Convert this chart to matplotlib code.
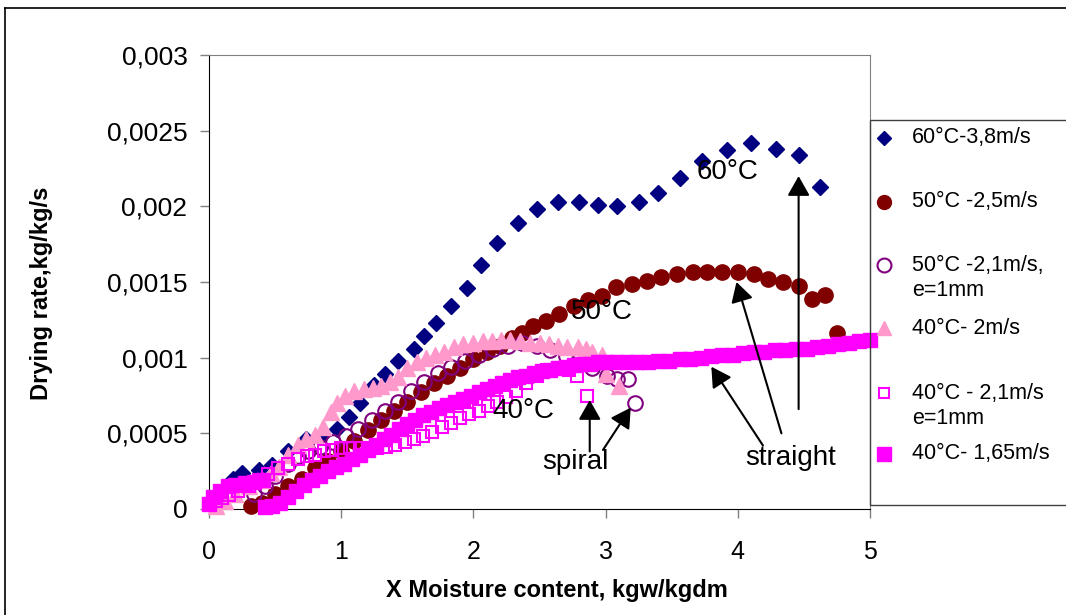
import matplotlib
matplotlib.use('Agg')
import matplotlib.pyplot as plt
from matplotlib.lines import Line2D
from matplotlib.patches import Rectangle

plt.rcParams['font.family'] = ['Liberation Sans', 'DejaVu Sans']

# 60°C - 3,8 m/s
x_60 = [0.03, 0.1, 0.18, 0.25, 0.38, 0.48, 0.6, 0.73, 0.85, 0.97, 1.06, 1.14,
        1.25, 1.33, 1.43, 1.55, 1.63, 1.72, 1.83, 1.95, 2.06, 2.18, 2.34, 2.48,
        2.64, 2.80, 2.94, 3.09, 3.25, 3.40, 3.56, 3.73, 3.92, 4.10, 4.29, 4.46, 4.62]
y_60 = [0.00003, 0.00012, 0.0002, 0.00024, 0.00026, 0.00029, 0.00038, 0.00046,
        0.00048, 0.00053, 0.00061, 0.0007, 0.00082, 0.00089, 0.00098, 0.00106,
        0.00114, 0.00123, 0.00134, 0.00146, 0.00161, 0.00176, 0.00189, 0.00198,
        0.00203, 0.00203, 0.00201, 0.002, 0.00203, 0.00209, 0.00219, 0.0023,
        0.00237, 0.00242, 0.00238, 0.00234, 0.00213]

# 50°C - 2,5 m/s
x_50a = [0.32, 0.4, 0.5, 0.6, 0.7, 0.8, 0.9, 1.0, 1.1, 1.2, 1.3, 1.4, 1.5, 1.6,
         1.7, 1.8, 1.9, 2.0, 2.1, 2.2, 2.29, 2.37, 2.45, 2.55, 2.65, 2.76, 2.87,
         2.97, 3.08, 3.20, 3.31, 3.42, 3.54, 3.66, 3.77, 3.88, 4.00, 4.12, 4.23,
         4.34, 4.46, 4.56, 4.66, 4.75]
y_50a = [0.00002, 0.00004, 0.0001, 0.00015, 0.0002, 0.00027, 0.00032, 0.00038,
         0.00045, 0.00052, 0.00059, 0.00065, 0.00071, 0.00077, 0.00083, 0.00088,
         0.00093, 0.00099, 0.00104, 0.00108, 0.00113, 0.00116, 0.00121, 0.00124,
         0.00129, 0.00134, 0.00138, 0.00141, 0.001465, 0.001487, 0.001507,
         0.001535, 0.001553, 0.001566, 0.001566, 0.001566, 0.001564, 0.001553,
         0.001518, 0.001502, 0.001476, 0.001388, 0.001414, 0.001161]

# 50°C - 2,1 m/s, e=1mm
x_50b = [0.34, 0.42, 0.5, 0.6, 0.67, 0.75, 0.84, 0.94, 1.04, 1.13, 1.23, 1.33,
         1.43, 1.53, 1.63, 1.73, 1.83, 1.94, 2.04, 2.15, 2.26, 2.37, 2.48, 2.58,
         2.7, 2.8, 2.9, 3.01, 3.09, 3.17, 3.22]
y_50b = [0.0001, 0.00015, 0.00022, 0.0003, 0.00035, 0.00038, 0.00041, 0.00044,
         0.00048, 0.00053, 0.00059, 0.00065, 0.00071, 0.00078, 0.00084, 0.0009,
         0.00094, 0.00098, 0.00102, 0.00106, 0.00108, 0.0011, 0.00108, 0.00105,
         0.00101, 0.00099, 0.00093, 0.00088, 0.00086, 0.00086, 0.0007]

# 40°C - 2 m/s
x_40a = [0.05, 0.12, 0.2, 0.3, 0.4, 0.47, 0.53, 0.6, 0.67, 0.73, 0.8, 0.86, 0.92,
         0.97, 1.03, 1.1, 1.17, 1.24, 1.3, 1.37, 1.43, 1.5, 1.57, 1.64, 1.71,
         1.78, 1.85, 1.92, 2.0, 2.07, 2.14, 2.21, 2.28, 2.35, 2.43, 2.5, 2.57,
         2.64, 2.71, 2.79, 2.85, 2.9, 2.97, 3.0, 3.1]
y_40a = [0.00002, 0.00005, 0.0001, 0.00015, 0.00019, 0.00024, 0.00028, 0.00036,
         0.00042, 0.00046, 0.00049, 0.00054, 0.00064, 0.0007, 0.00075, 0.00078,
         0.00079, 0.0008, 0.00081, 0.00084, 0.00087, 0.00093, 0.00097, 0.001,
         0.00102, 0.00104, 0.00107, 0.00109, 0.0011, 0.00111, 0.00111, 0.00112,
         0.00112, 0.00111, 0.0011, 0.0011, 0.00109, 0.00108, 0.00107, 0.00107,
         0.00106, 0.00104, 0.00102, 0.00089, 0.00081]

# 40°C - 2,1 m/s, e=1mm
x_40b = [0.0, 0.05, 0.1, 0.15, 0.22, 0.3, 0.38, 0.45, 0.52, 0.6, 0.67, 0.74, 0.8,
         0.87, 0.93, 1.0, 1.07, 1.14, 1.2, 1.27, 1.34, 1.41, 1.48, 1.55, 1.62,
         1.69, 1.76, 1.83, 1.9, 1.97, 2.04, 2.11, 2.18, 2.25, 2.32, 2.4, 2.48,
         2.56, 2.64, 2.72, 2.78, 2.86]
y_40b = [0.00003, 0.00005, 0.00007, 0.00009, 0.00012, 0.00015, 0.00019, 0.00023,
         0.00027, 0.0003, 0.00033, 0.00035, 0.00036, 0.00038, 0.00039, 0.0004,
         0.0004, 0.0004, 0.0004, 0.0004, 0.00041, 0.00042, 0.00044, 0.00046,
         0.00048, 0.00051, 0.00054, 0.00057, 0.0006, 0.00063, 0.00065, 0.00068,
         0.00071, 0.00074, 0.00078, 0.00083, 0.00088, 0.00092, 0.00093, 0.00092,
         0.00088, 0.00075]

# 40°C - 1,65 m/s
x_40c = [0.0, 0.03, 0.08, 0.14, 0.2, 0.27, 0.34, 0.41,
         0.42, 0.48, 0.54, 0.6, 0.66, 0.72, 0.78, 0.84, 0.9, 0.96, 1.02, 1.08,
         1.14, 1.2, 1.26, 1.32, 1.38, 1.44, 1.5, 1.56, 1.62, 1.68, 1.74, 1.8,
         1.86, 1.92, 1.98, 2.04, 2.1, 2.16, 2.22, 2.28, 2.34, 2.4, 2.46, 2.52,
         2.58, 2.64, 2.7, 2.76, 2.82, 2.88, 2.94, 3.0, 3.08, 3.16, 3.24, 3.32,
         3.4, 3.48, 3.56, 3.64, 3.72, 3.8, 3.88, 3.96, 4.04, 4.12, 4.2, 4.28,
         4.36, 4.44, 4.52, 4.6, 4.68, 4.76, 4.84, 4.92, 5.0]
y_40c = [0.00003, 0.00008, 0.00012, 0.00015, 0.00016, 0.00017, 0.00018, 0.00019,
         0.00001, 0.00002, 0.00004, 0.00008, 0.00012, 0.00016, 0.00019, 0.00022,
         0.00025, 0.00028, 0.0003, 0.00033, 0.00036, 0.00039, 0.00042, 0.00046,
         0.00049, 0.00053, 0.00056, 0.00059, 0.00062, 0.00064, 0.00067, 0.00069,
         0.00071, 0.00073, 0.00075, 0.00077, 0.00079, 0.00081, 0.00083, 0.00085,
         0.00087, 0.00088, 0.0009, 0.00091, 0.00092, 0.00093, 0.00094, 0.00095,
         0.00096, 0.00096, 0.00097, 0.00097, 0.00097, 0.00097, 0.00097, 0.00097,
         0.00098, 0.00098, 0.00099, 0.00099, 0.001, 0.00101, 0.00102, 0.00102,
         0.00103, 0.00104, 0.00104, 0.00105, 0.00105, 0.00106, 0.00106, 0.00107,
         0.00108, 0.00109, 0.0011, 0.00111, 0.00112]

y_ticks = [0, 0.0005, 0.001, 0.0015, 0.002, 0.0025, 0.003]
y_tick_labels = ['0', '0,0005', '0,001', '0,0015', '0,002', '0,0025', '0,003']
x_ticks = [0, 1, 2, 3, 4, 5]

legend_labels = [['60°C-3,8m/s'], ['50°C -2,5m/s'], ['50°C -2,1m/s,', 'e=1mm'],
                 ['40°C- 2m/s'], ['40°C - 2,1m/s', 'e=1mm'], ['40°C- 1,65m/s']]

W, H = 1066, 615


def fx(px):
    return px / W


def fy(py):
    return 1 - py / H


fig = plt.figure(figsize=(W / 100, H / 100), dpi=100)
ax = fig.add_axes([fx(209), fy(509), 661 / W, 454 / H])

styles = [
    dict(marker='D', ms=7.8, color='#000080', mfc='#000080', mec='#000080'),
    dict(marker='o', ms=11, color='#800000', mfc='#800000', mec='#800000'),
    dict(marker='o', ms=10.5, color='#800080', mfc='none', mec='#800080', mew=1.5),
    dict(marker='^', ms=11, color='#FF99CC', mfc='#FF99CC', mec='#FF99CC'),
    dict(marker='s', ms=8.2, color='#FF00FF', mfc='none', mec='#FF00FF', mew=1.5),
    dict(marker='s', ms=9.8, color='#FF00FF', mfc='#FF00FF', mec='#FF00FF'),
]
legend_ms = [7.2, 10, 10, 10, 7.6, 9.4]
data = [(x_60, y_60), (x_50a, y_50a), (x_50b, y_50b),
        (x_40a, y_40a), (x_40b, y_40b), (x_40c, y_40c)]

for i, ((xs, ys), st) in enumerate(zip(data, styles)):
    ax.plot(xs, ys, linestyle='none', clip_on=False, zorder=3 + i, **st)

ax.set_xlim(0, 5)
ax.set_ylim(0, 0.003)
ax.set_xticks(x_ticks)
ax.set_xticklabels([str(t) for t in x_ticks])
ax.set_yticks(y_ticks)
ax.set_yticklabels(y_tick_labels)
ax.tick_params(axis='both', direction='out', length=6.5, width=1, color='#808080')
ax.tick_params(axis='y', labelsize=19, pad=9)
ax.tick_params(axis='x', labelsize=18, pad=16)

for s in ['left', 'bottom']:
    ax.spines[s].set_color('black')
for s in ['top', 'right']:
    ax.spines[s].set_color('#808080')

ax.set_xlabel('X Moisture content, kgw/kgdm', fontsize=17, fontweight='bold')
ax.xaxis.set_label_coords((557 - 209) / 661, (509 - 590) / 454)
ax.set_ylabel('Drying rate,kg/kg/s', fontsize=17, fontweight='bold')
ax.yaxis.set_label_coords((42 - 209) / 661, (509 - 293) / 454)
ax.xaxis.label.set_va('center')
ax.yaxis.label.set_va('center')

# labels and arrows
ax.text(3.92, 0.00223, '60°C', fontsize=20, ha='center', va='center', zorder=20)
ax.text(2.97, 0.0013, '50°C', fontsize=20, ha='center', va='center', zorder=20)
ax.text(2.38, 0.00065, '40°C', fontsize=20, ha='center', va='center', zorder=20)
ax.text(2.77, 0.00031, 'spiral', fontsize=20, ha='center', va='center', zorder=20)
ax.text(4.40, 0.00034, 'straight', fontsize=20, ha='center', va='center', zorder=20)

arrows = [((2.88, 0.00038), (2.88, 0.00072)),
          ((2.98, 0.00039), (3.19, 0.00067)),
          ((4.19, 0.00042), (3.80, 0.00094)),
          ((4.33, 0.0005), (3.99, 0.0015)),
          ((4.46, 0.00066), (4.46, 0.0022))]
for start, end in arrows:
    ax.annotate('', xy=end, xytext=start, zorder=21,
                arrowprops=dict(arrowstyle='-|>,head_length=0.6,head_width=0.34',
                                mutation_scale=20, color='black', lw=1.5,
                                shrinkA=0, shrinkB=0))

# legend box drawn by hand
fig.add_artist(Rectangle((fx(870), fy(505)), 1 - fx(870) + 0.01, (505 - 120) / H,
                         transform=fig.transFigure, fill=False,
                         edgecolor='#404040', lw=1))
marker_y = [138, 202, 265, 328, 393, 454]
for st, lms, lines, my in zip(styles, legend_ms, legend_labels, marker_y):
    st2 = dict(st)
    st2['ms'] = lms
    fig.add_artist(Line2D([fx(884)], [fy(my)], transform=fig.transFigure,
                          linestyle='none', **st2))
    for k, line in enumerate(lines):
        fig.text(fx(912), fy(my + 25 * k), line, fontsize=15.5,
                 ha='left', va='center')

# outer border
fig.add_artist(Line2D([fx(5), 1], [fy(8), fy(8)], transform=fig.transFigure,
                      color='black', lw=1.2))
fig.add_artist(Line2D([fx(5), fx(5)], [0, fy(8)], transform=fig.transFigure,
                      color='black', lw=1.2))

fig.savefig('out.png', dpi=100)
